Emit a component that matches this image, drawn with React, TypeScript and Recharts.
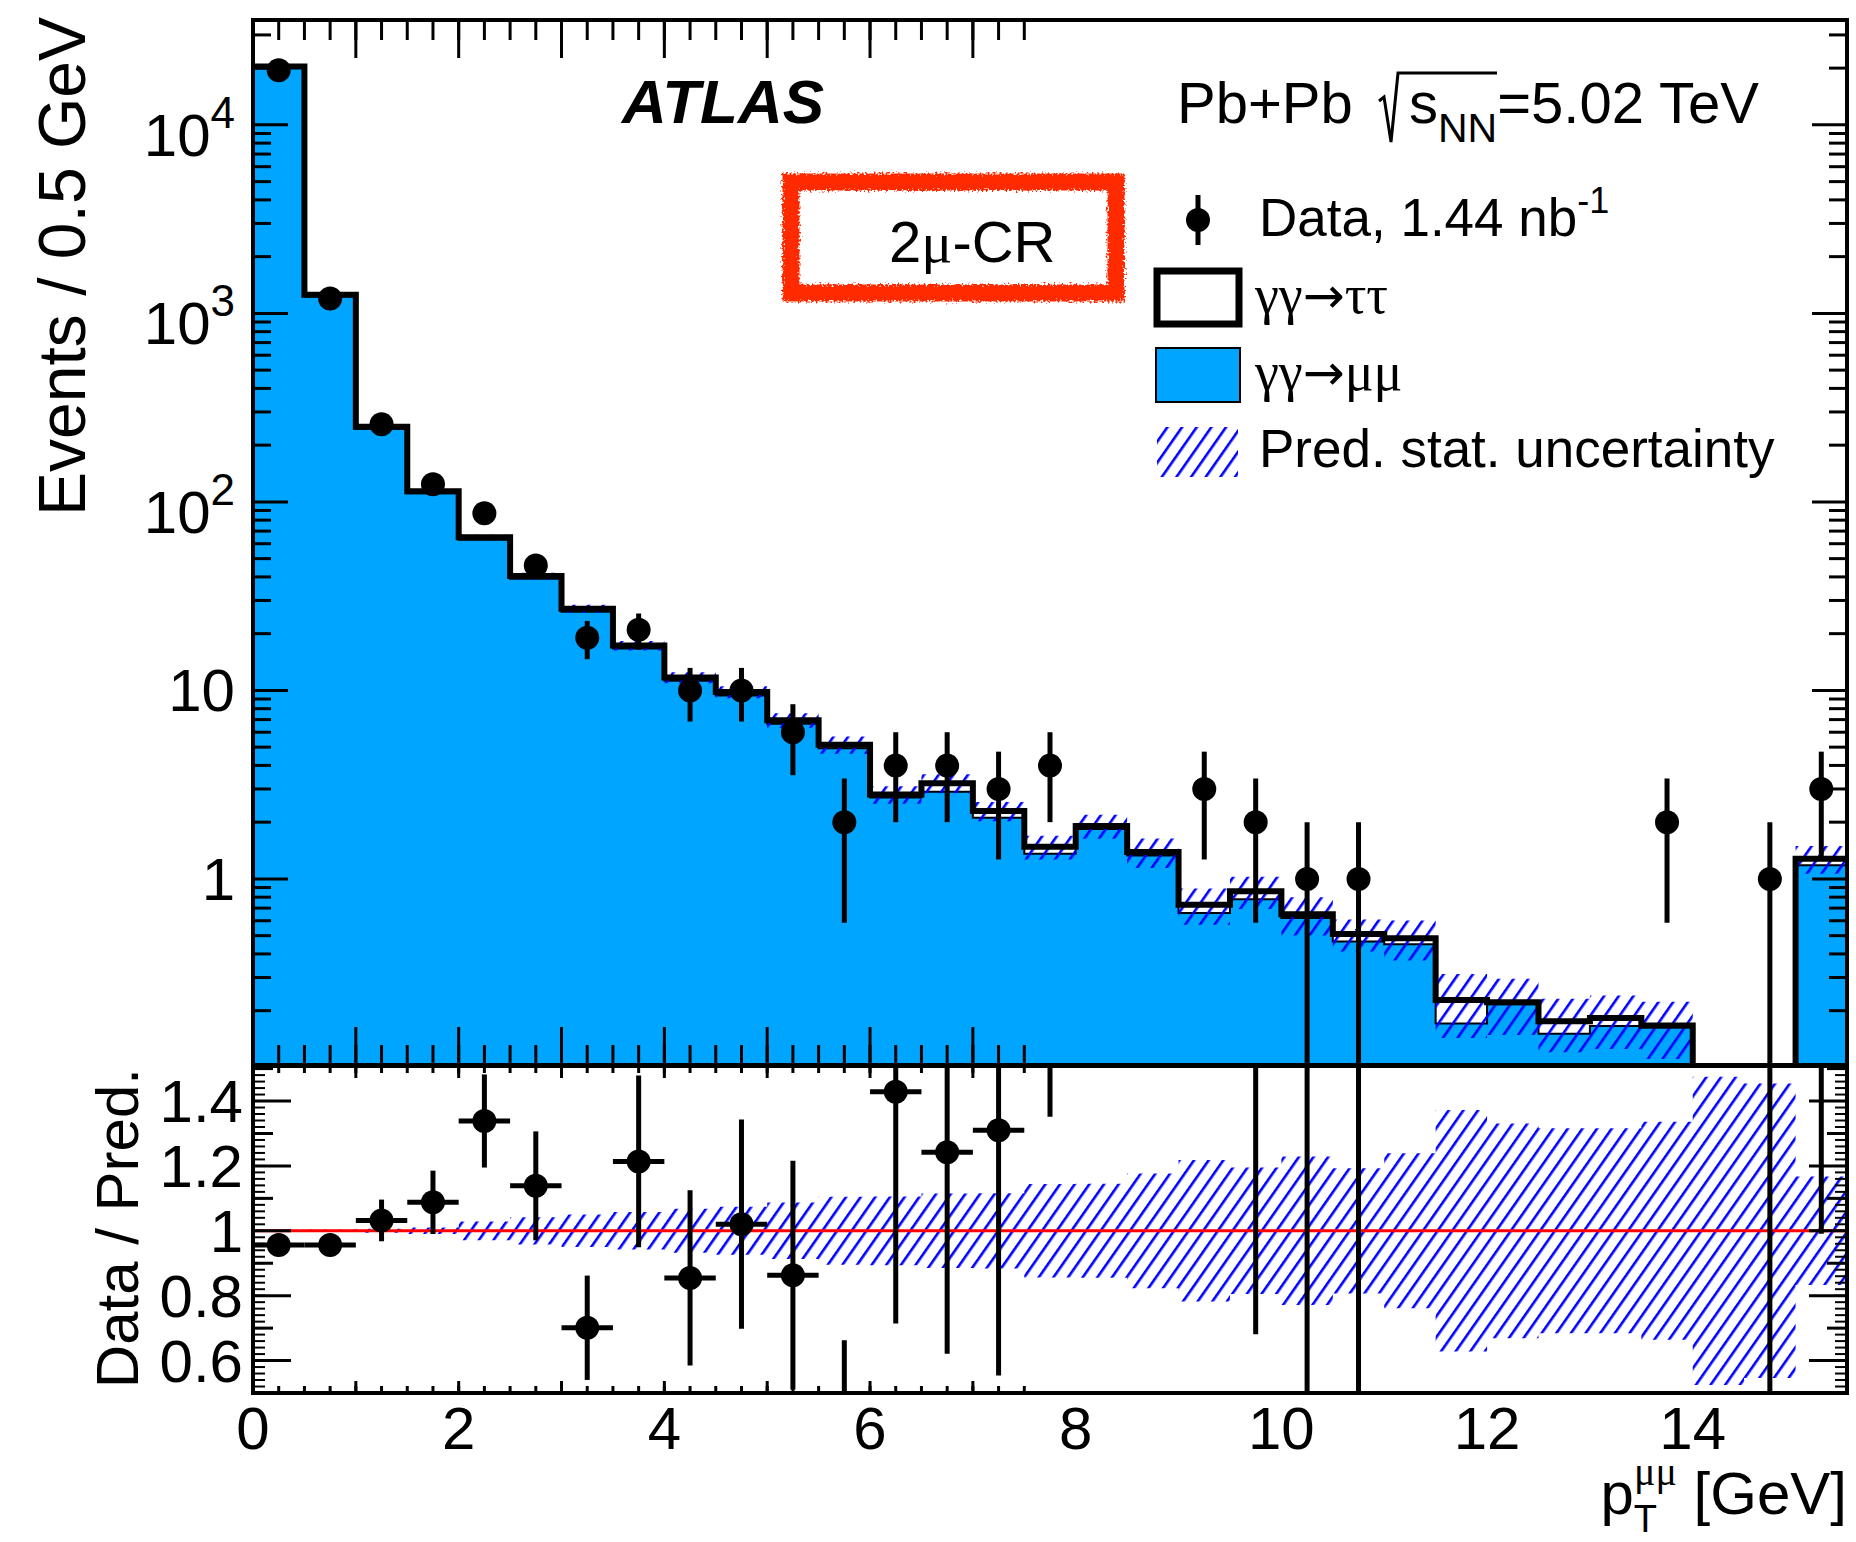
import React from 'react';
import {
  ComposedChart,
  Area,
  Line,
  Scatter,
  ErrorBar,
  XAxis,
  YAxis,
  ReferenceLine,
} from 'recharts';

const SANS = "'Liberation Sans', Arial, Helvetica, sans-serif";
const SERIF = "'Liberation Serif', 'Times New Roman', serif";
const ARROW = "'DejaVu Sans', sans-serif";
const MU_BLUE = '#00a5ff';
const HATCH_BLUE = '#0000ff';

const W = 1856;
const LABEL_W = 120;
const PLOT_LEFT = 253;
const RIGHT_MARGIN = 9;

// lower edge of each 0.5 GeV bin
const binLo = [0, 0.5, 1, 1.5, 2, 2.5, 3, 3.5, 4, 4.5, 5, 5.5, 6, 6.5, 7, 7.5, 8, 8.5, 9, 9.5, 10, 10.5, 11, 11.5, 12, 12.5, 13, 13.5, 14, 14.5, 15];
const binHalf = 0.25;
const xMax = 15.5;

// gamma gamma -> mu mu prediction per bin
const mumu = [20250, 1230, 244, 111, 63, 39.1, 26.1, 16.7, 11.25, 9.4, 6.65, 4.93, 2.7, 2.9, 2.11, 1.36, 1.84, 1.33, 0.66, 0.78, 0.62, 0.465, 0.45, 0.171, 0.216, 0.151, 0.166, 0.163, 0.03, 0.035, 1.18];
// gamma gamma -> tau tau prediction per bin (stacked on top)
const tautau = [150, 25, 6, 3, 2, 1.3, 1.0, 0.6, 0.45, 0.4, 0.3, 0.22, 0.1, 0.32, 0.18, 0.12, 0.07, 0.06, 0.07, 0.08, 0.03, 0.045, 0.035, 0.057, 0.006, 0.025, 0.017, 0.004, 0.01, 0.005, 0.1];
// observed events
const dataCounts = [19500, 1200, 258, 124, 87, 46, 19, 21, 10, 10, 6, 2, 4, 4, 3, 4, 0, 0, 3, 2, 1, 1, 0, 0, 0, 0, 0, 2, 0, 1, 3];
// relative stat. uncertainty of the prediction
const predRelErr = [0.002, 0.004, 0.006, 0.01, 0.029, 0.042, 0.05, 0.058, 0.068, 0.074, 0.087, 0.105, 0.106, 0.115, 0.116, 0.144, 0.145, 0.177, 0.218, 0.195, 0.229, 0.193, 0.239, 0.372, 0.331, 0.316, 0.316, 0.336, 0.475, 0.454, 0.167];

const xMajor = [0, 2, 4, 6, 8, 10, 12, 14];
const xTickLabels = ['0', '2', '4', '6', '8', '10', '12', '14'];
const yMainTicks = [1, 10, 100, 1000, 10000];
const yMainLabels = [['1', ''], ['10', ''], ['10', '2'], ['10', '3'], ['10', '4']];
const ratioTicks = [0.6, 0.8, 1, 1.2, 1.4];
const ratioLabels = ['0.6', '0.8', '1', '1.2', '1.4'];
const ratioMid = [0.7, 0.9, 1.1, 1.3, 1.5];

const yMainDomain: [number, number] = [0.103, 36000];
const ratioDomain: [number, number] = [0.5, 1.508];

const yMainMinor: number[] = [];
[0.1, 1, 10, 100, 1000, 10000].forEach((d) => {
  for (let k = 2; k <= 9; k++) {
    const v = d * k;
    if (v > yMainDomain[0] && v < yMainDomain[1]) yMainMinor.push(v);
  }
});
const ratioMinor: number[] = [];
for (let k = 26; k <= 75; k++) ratioMinor.push(k / 50);

const total = mumu.map((m, i) => m + tautau[i]);

// step rows at bin edges (last edge repeats the last bin)
const stepRows = [...binLo, xMax].map((x, k) => {
  const i = Math.min(k, binLo.length - 1);
  const t = total[i];
  const e = predRelErr[i];
  return { x, mumu: mumu[i], total: t, band: [t * (1 - e), t * (1 + e)], rband: [1 - e, 1 + e] };
});

const points = binLo
  .map((lo, i) => {
    const n = dataCounts[i];
    const s = Math.sqrt(n);
    const t = total[i];
    return {
      x: lo + binHalf,
      n,
      nErr: [n - Math.max(n - s, 1e-3), s],
      r: n / t,
      rErr: [s / t, s / t],
      xErr: binHalf,
    };
  })
  .filter((p) => p.n > 0);

// tick marks only, no label text
const noLabel = () => <g />;
const frameLine = { stroke: '#000', strokeWidth: 4, strokeLinecap: 'square' as const };

function xTicks(id: string, orient: 'top' | 'bottom', ticks: number[], size: number, frame: boolean, w = 3) {
  return (
    <XAxis
      key={id}
      xAxisId={id}
      type="number"
      domain={[0, xMax]}
      allowDataOverflow
      orientation={orient}
      mirror
      height={1}
      ticks={ticks}
      interval={0}
      tickSize={size}
      tickLine={{ stroke: '#000', strokeWidth: w }}
      axisLine={frame ? frameLine : false}
      tick={noLabel}
    />
  );
}

function yTicks(id: string, orient: 'left' | 'right', ticks: number[], size: number, frame: boolean, domain: [number, number], log: boolean, w = 3) {
  return (
    <YAxis
      key={id}
      yAxisId={id}
      type="number"
      scale={log ? 'log' : 'linear'}
      domain={domain}
      allowDataOverflow
      orientation={orient}
      mirror
      width={1}
      ticks={ticks}
      interval={0}
      tickSize={size}
      tickLine={{ stroke: '#000', strokeWidth: w }}
      axisLine={frame ? frameLine : false}
      tick={noLabel}
    />
  );
}

const MainYTick = (props: any) => {
  const { x, y, payload } = props;
  const lab = yMainLabels[yMainTicks.indexOf(payload.value)] || ['', ''];
  if (!lab[1]) {
    return (
      <text x={x} y={y + 21} textAnchor="end" fontFamily={SANS} fontSize={60} fill="#000">
        {lab[0]}
      </text>
    );
  }
  return (
    <text x={x} y={y + 31} textAnchor="end" fontFamily={SANS} fontSize={60} fill="#000">
      {lab[0]}
      <tspan fontSize={44} dy={-28}>{lab[1]}</tspan>
    </text>
  );
};

const RatioYTick = (props: any) => {
  const { x, y, payload } = props;
  return (
    <text x={x} y={y + 21} textAnchor="end" fontFamily={SANS} fontSize={60} fill="#000">
      {ratioLabels[ratioTicks.indexOf(payload.value)]}
    </text>
  );
};

const XTick = (props: any) => {
  const { x, y, payload } = props;
  return (
    <text x={x} y={y + 54} textAnchor="middle" fontFamily={SANS} fontSize={60} fill="#000">
      {xTickLabels[xMajor.indexOf(payload.value)]}
    </text>
  );
};

const dot = (p: any) => <circle cx={p.cx} cy={p.cy} r={12} fill="#000" />;

const MainPanel = () => (
  <ComposedChart
    width={W}
    height={1067}
    data={stepRows}
    margin={{ top: 20, right: RIGHT_MARGIN, bottom: 2, left: PLOT_LEFT - LABEL_W }}
  >
    <XAxis xAxisId="x" dataKey="x" type="number" domain={[0, xMax]} allowDataOverflow hide />
    <YAxis
      yAxisId="y"
      dataKey="n"
      type="number"
      scale="log"
      domain={yMainDomain}
      allowDataOverflow
      width={LABEL_W}
      ticks={yMainTicks}
      interval={0}
      tickSize={0}
      tickMargin={18}
      tickLine={false}
      axisLine={false}
      tick={(p: any) => <MainYTick {...p} />}
    />
    {xTicks('xb1', 'bottom', xMajor, 38, true)}
    {xTicks('xb2', 'bottom', binLo, 19, false)}
    {xTicks('xt1', 'top', xMajor, 38, true)}
    {xTicks('xt2', 'top', binLo, 19, false)}
    {yTicks('yl1', 'left', yMainTicks, 35, true, yMainDomain, true)}
    {yTicks('yl2', 'left', yMainMinor, 17, false, yMainDomain, true)}
    {yTicks('yr1', 'right', yMainTicks, 35, true, yMainDomain, true)}
    {yTicks('yr2', 'right', yMainMinor, 17, false, yMainDomain, true)}
    <Area
      xAxisId="x"
      yAxisId="y"
      type="stepAfter"
      dataKey="mumu"
      fill={MU_BLUE}
      fillOpacity={1}
      stroke="#000"
      strokeWidth={2}
      isAnimationActive={false}
    />
    <Line
      xAxisId="x"
      yAxisId="y"
      type="stepAfter"
      dataKey="total"
      stroke="#000"
      strokeWidth={6}
      dot={false}
      isAnimationActive={false}
    />
    <Area
      xAxisId="x"
      yAxisId="y"
      type="stepAfter"
      dataKey="band"
      fill="url(#hatch)"
      fillOpacity={1}
      stroke="none"
      isAnimationActive={false}
    />
    <Scatter xAxisId="x" yAxisId="y" data={points} shape={dot} isAnimationActive={false}>
      <ErrorBar dataKey="nErr" direction="y" width={0} stroke="#000" strokeWidth={5} />
    </Scatter>
  </ComposedChart>
);

// ratio plot only; svg bounds cut what falls outside the frame
const RatioPanel = () => (
  <ComposedChart
    width={W}
    height={331}
    data={stepRows}
    margin={{ top: 2, right: RIGHT_MARGIN, bottom: 2, left: PLOT_LEFT - LABEL_W }}
  >
    <XAxis xAxisId="x" dataKey="x" type="number" domain={[0, xMax]} allowDataOverflow hide />
    <YAxis
      yAxisId="y"
      dataKey="r"
      type="number"
      domain={ratioDomain}
      allowDataOverflow
      width={LABEL_W}
      ticks={ratioTicks}
      interval={0}
      tickSize={0}
      tickMargin={10}
      tickLine={false}
      axisLine={false}
      tick={(p: any) => <RatioYTick {...p} />}
    />
    {xTicks('xb1', 'bottom', xMajor, 12, true)}
    {xTicks('xb2', 'bottom', binLo, 6, false)}
    {xTicks('xt1', 'top', xMajor, 12, true)}
    {xTicks('xt2', 'top', binLo, 6, false)}
    {yTicks('yl1', 'left', ratioTicks, 38, true, ratioDomain, false)}
    {yTicks('yl2', 'left', ratioMid, 19, false, ratioDomain, false)}
    {yTicks('yl3', 'left', ratioMinor, 10, false, ratioDomain, false, 2)}
    {yTicks('yr1', 'right', ratioTicks, 38, true, ratioDomain, false)}
    {yTicks('yr2', 'right', ratioMid, 19, false, ratioDomain, false)}
    {yTicks('yr3', 'right', ratioMinor, 10, false, ratioDomain, false, 2)}
    <Area
      xAxisId="x"
      yAxisId="y"
      type="stepAfter"
      dataKey="rband"
      fill="url(#hatch)"
      fillOpacity={1}
      stroke="none"
      isAnimationActive={false}
    />
    <ReferenceLine xAxisId="x" yAxisId="y" y={1} stroke="#ff0000" strokeWidth={3} />
    <Scatter xAxisId="x" yAxisId="y" data={points} shape={dot} isAnimationActive={false}>
      <ErrorBar dataKey="rErr" direction="y" width={0} stroke="#000" strokeWidth={5} />
      <ErrorBar dataKey="xErr" direction="x" width={0} stroke="#000" strokeWidth={5} />
    </Scatter>
  </ComposedChart>
);

// x tick labels under the ratio plot
const XLabelStrip = () => (
  <ComposedChart
    width={W}
    height={149}
    data={stepRows}
    margin={{ top: 0, right: RIGHT_MARGIN, bottom: 0, left: PLOT_LEFT }}
  >
    <XAxis
      xAxisId="x"
      dataKey="x"
      type="number"
      domain={[0, xMax]}
      allowDataOverflow
      height={147}
      ticks={xMajor}
      interval={0}
      tickSize={0}
      tickMargin={0}
      tickLine={false}
      axisLine={false}
      tick={(p: any) => <XTick {...p} />}
    />
    <YAxis yAxisId="y" type="number" domain={ratioDomain} allowDataOverflow hide />
    <Line xAxisId="x" yAxisId="y" dataKey="total" stroke="none" dot={false} isAnimationActive={false} />
  </ComposedChart>
);

const Overlay = () => (
  <svg width={W} height={1542} style={{ position: 'absolute', left: 0, top: 0, pointerEvents: 'none' }}>
    <defs>
      <pattern id="hatch" patternUnits="userSpaceOnUse" width={12} height={12} patternTransform="rotate(35)">
        <rect x={0} y={0} width={2.6} height={12} fill={HATCH_BLUE} />
      </pattern>
      <filter id="rough" x="-10%" y="-30%" width="120%" height="160%">
        <feTurbulence type="fractalNoise" baseFrequency="0.5" numOctaves={2} result="noise" />
        <feDisplacementMap in="SourceGraphic" in2="noise" scale={9} />
      </filter>
    </defs>

    {/* axis titles */}
    <text transform="translate(85,17) rotate(-90)" textAnchor="end" fontFamily={SANS} fontSize={66}>
      Events / 0.5 GeV
    </text>
    <text transform="translate(138,1068) rotate(-90)" textAnchor="end" fontFamily={SANS} fontSize={60}>
      Data / Pred.
    </text>
    <text x={1847} y={1514} textAnchor="end" fontFamily={SANS} fontSize={60}>
      p
      <tspan fontSize={38} dy={18}>T</tspan>
      <tspan fontSize={40} fontFamily={SERIF} dx={-23} dy={-47}>μμ</tspan>
      <tspan dy={29}> [GeV]</tspan>
    </text>

    {/* labels */}
    <text x={622} y={123} fontFamily={SANS} fontSize={62} fontWeight="bold" fontStyle="italic">
      ATLAS
    </text>
    <text x={1177} y={123} fontFamily={SANS} fontSize={58}>Pb+Pb</text>
    <path d="M1379 101 L1384 97 L1391 142 L1398 73 L1497 73" stroke="#000" strokeWidth={3} fill="none" />
    <text x={1409} y={123} fontFamily={SANS} fontSize={58}>
      s<tspan fontSize={41} dy={19}>NN</tspan>
      <tspan dy={-19}>=5.02 TeV</tspan>
    </text>

    <rect x={791} y={182} width={325} height={111} fill="none" stroke="#ff2a00" strokeWidth={17} filter="url(#rough)" />
    <text x={889} y={262} fontFamily={SANS} fontSize={58}>
      2<tspan fontFamily={SERIF}>μ</tspan>-CR
    </text>

    {/* legend */}
    <line x1={1198} y1={195} x2={1198} y2={245} stroke="#000" strokeWidth={5} />
    <circle cx={1198} cy={220} r={12} fill="#000" />
    <text x={1259} y={236} fontFamily={SANS} fontSize={53}>
      Data, 1.44 nb<tspan fontSize={36} dy={-23}>-1</tspan>
    </text>

    <rect x={1157} y={271} width={82} height={53} fill="#fff" stroke="#000" strokeWidth={7} />
    <text x={1255} y={313} fontFamily={SERIF} fontSize={54}>
      γγ<tspan fontFamily={ARROW} fontSize={50}>→</tspan>ττ
    </text>

    <rect x={1156} y={348} width={84} height={54} fill={MU_BLUE} stroke="#000" strokeWidth={2} />
    <text x={1255} y={390} fontFamily={SERIF} fontSize={54}>
      γγ<tspan fontFamily={ARROW} fontSize={50}>→</tspan>μμ
    </text>

    <rect x={1157} y={427} width={81} height={50} fill="url(#hatch)" />
    <text x={1259} y={467} fontFamily={SANS} fontSize={53}>Pred. stat. uncertainty</text>
  </svg>
);

export default function App() {
  return (
    <div style={{ position: 'absolute', left: 0, top: 0, width: W, height: 1542, background: '#fff', overflow: 'hidden' }}>
      <div style={{ position: 'absolute', left: 0, top: 0 }}>
        <MainPanel />
      </div>
      <div style={{ position: 'absolute', left: 0, top: 1064 }}>
        <RatioPanel />
      </div>
      <div style={{ position: 'absolute', left: 0, top: 1393 }}>
        <XLabelStrip />
      </div>
      <Overlay />
    </div>
  );
}
